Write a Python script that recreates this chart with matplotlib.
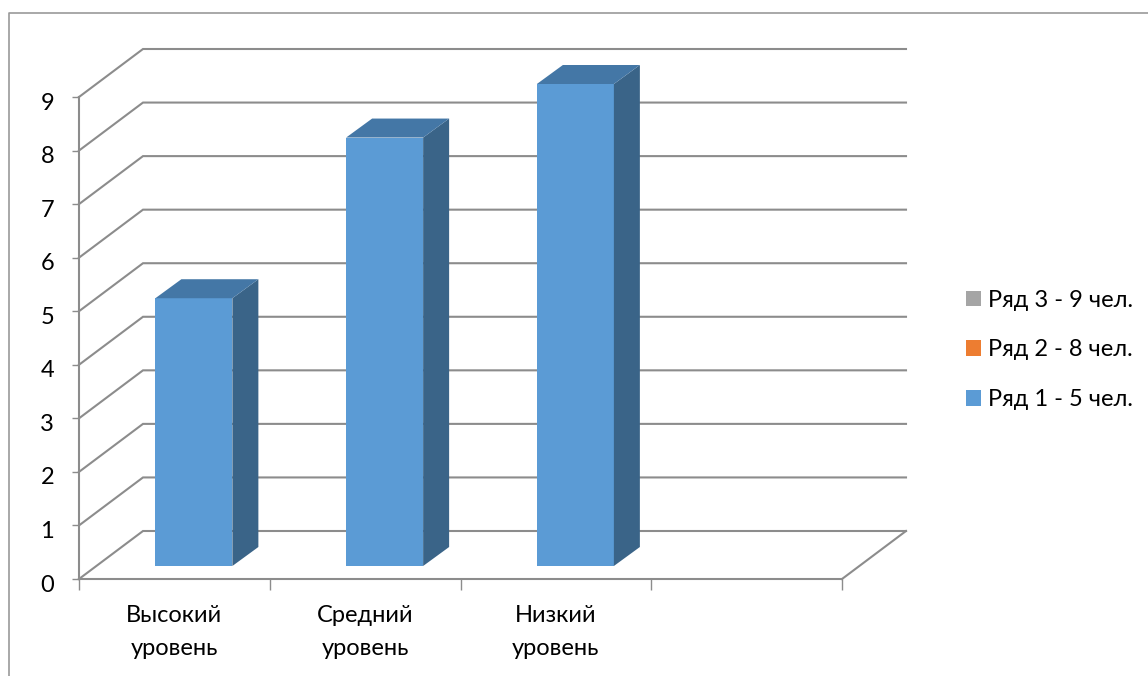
import matplotlib
matplotlib.use('Agg')
import numpy as np
import matplotlib.pyplot as plt
from matplotlib.patches import Patch, Polygon
from matplotlib.transforms import ScaledTranslation

categories = ['Высокий\nуровень', 'Средний\nуровень', 'Низкий\nуровень']
values = [5, 8, 9]
legend_labels = ['Ряд 3 - 9 чел.', 'Ряд 2 - 8 чел.', 'Ряд 1 - 5 чел.']
legend_colors = ['#A5A5A5', '#ED7D31', '#5B9BD5']
yticks = list(range(10))
n_slots = 4

W, H = 1148, 676
# plot area in pixels
left, right, top, bottom = 79, 842, 97, 579
# 3d look: how far the back wall sits from the front, in pixels
depth_px = (64, 48)
bar_depth_px = (26, 19)
bar_shift_px = (19.5, 13)
bar_px = 77

line_col = '#8C8C8C'
side_col = '#3A6488'
top_col = '#4477A6'

plt.rcParams['font.family'] = ['Lato', 'Open Sans', 'DejaVu Sans']

fig = plt.figure(figsize=(W / 100, H / 100), dpi=100)
ax = fig.add_axes([left / W, 1 - bottom / H, (right - left) / W, (bottom - top) / H])
ax.set_xlim(0, n_slots)
ax.set_ylim(0, yticks[-1])
ax.patch.set_visible(False)

# pixels -> data units
ux = n_slots / (right - left)
uy = yticks[-1] / (bottom - top)
dx, dy = depth_px[0] * ux, depth_px[1] * uy

# back wall and side lines
for v in yticks:
    ax.plot([0, dx, n_slots + dx], [v, v + dy, v + dy], color=line_col, lw=1.5,
            clip_on=False, zorder=1, solid_joinstyle='miter')
ax.plot([n_slots, n_slots + dx], [0, dy], color=line_col, lw=1.5, clip_on=False, zorder=1)

# bars: front face from ax.bar, side and top from the same values
pos = np.arange(len(values)) + 0.5
sx, sy = bar_shift_px[0] * ux, bar_shift_px[1] * uy
bw = bar_px * ux
bdx, bdy = bar_depth_px[0] * ux, bar_depth_px[1] * uy
ax.bar(pos + sx, values, width=bw, bottom=sy, color=legend_colors[2], clip_on=False, zorder=3)
for x, v in zip(pos + sx, values):
    x0, x1 = x - bw / 2, x + bw / 2
    y0, y1 = sy, sy + v
    ax.add_patch(Polygon([(x1, y0), (x1 + bdx, y0 + bdy), (x1 + bdx, y1 + bdy), (x1, y1)],
                         facecolor=side_col, edgecolor='none', clip_on=False, zorder=3))
    ax.add_patch(Polygon([(x0, y1), (x1, y1), (x1 + bdx, y1 + bdy), (x0 + bdx, y1 + bdy)],
                         facecolor=top_col, edgecolor='none', clip_on=False, zorder=3))

ax.set_yticks(yticks)
ax.set_xticks(range(n_slots + 1))
ax.set_xticklabels([])
ax.set_xticks(pos, categories, minor=True)
ax.tick_params(axis='y', length=5, width=1, color=line_col, labelsize=17, pad=13)
ax.tick_params(axis='x', which='major', length=8, width=1, color=line_col)
ax.tick_params(axis='x', which='minor', length=0, labelsize=17, pad=19)
for lab in ax.get_xticklabels(minor=True):
    lab.set_linespacing(1.68)
# digits sit a little below their ticks in the original
for lab in ax.get_yticklabels():
    lab.set_transform(lab.get_transform() + ScaledTranslation(0, -4 / 100, fig.dpi_scale_trans))

for s in ['top', 'right']:
    ax.spines[s].set_visible(False)
for s in ['left', 'bottom']:
    ax.spines[s].set_color(line_col)
    ax.spines[s].set_linewidth(1.5)
    ax.spines[s].set_zorder(2)

handles = [Patch(facecolor=c, edgecolor='none') for c in legend_colors]
fig.legend(handles, legend_labels, loc='center left', bbox_to_anchor=(966 / W, 1 - 350 / H),
           frameon=False, fontsize=17, handlelength=0.64, handleheight=0.64, handletextpad=0.3,
           labelspacing=1.22, borderpad=0, borderaxespad=0)

# chart outline, open on the right and at the bottom
fig.add_artist(plt.Line2D([9 / W, 9 / W, 1], [0, 1 - 13 / H, 1 - 13 / H],
                          color='#999999', lw=1.2, transform=fig.transFigure))

fig.savefig('out.png', dpi=100)
